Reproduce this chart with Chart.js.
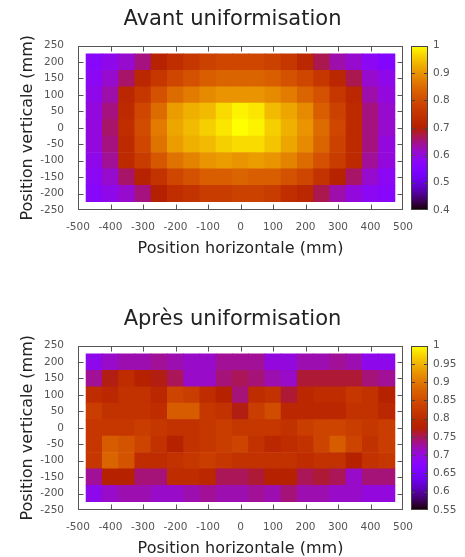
<!DOCTYPE html>
<html>
<head>
<meta charset="utf-8">
<script src="https://cdn.jsdelivr.net/npm/chart.js@4.4.0/dist/chart.umd.min.js"></script>
<style>
  html, body { margin: 0; padding: 0; background: #fff; overflow: hidden; }
  .panel { position: absolute; left: 0; width: 465px; height: 300px; }
</style>
</head>
<body>
<div class="panel" style="top:0"><canvas id="avant" width="465" height="300"></canvas></div>
<div class="panel" style="top:300px"><canvas id="apres" width="465" height="300"></canvas></div>
<script>
// cell centres (mm)
const xPositions = [-450, -400, -350, -300, -250, -200, -150, -100, -50, 0, 50, 100, 150, 200, 250, 300, 350, 400, 450];
const yPositions = [200, 150, 100, 50, 0, -50, -100, -150, -200];

// rows from top (y=200) to bottom (y=-200)
const avantValues = [
  [0.57, 0.59, 0.61, 0.65, 0.71, 0.74, 0.76, 0.78, 0.79, 0.79, 0.79, 0.78, 0.76, 0.72, 0.67, 0.63, 0.61, 0.58, 0.56],
  [0.58, 0.61, 0.66, 0.72, 0.76, 0.79, 0.81, 0.83, 0.84, 0.84, 0.84, 0.83, 0.81, 0.79, 0.76, 0.72, 0.67, 0.61, 0.59],
  [0.59, 0.63, 0.72, 0.76, 0.81, 0.85, 0.87, 0.89, 0.90, 0.90, 0.90, 0.89, 0.87, 0.84, 0.81, 0.76, 0.72, 0.63, 0.60],
  [0.60, 0.65, 0.73, 0.79, 0.85, 0.91, 0.93, 0.94, 0.97, 0.99, 0.98, 0.94, 0.92, 0.89, 0.83, 0.78, 0.73, 0.65, 0.61],
  [0.60, 0.66, 0.74, 0.80, 0.87, 0.92, 0.94, 0.96, 0.98, 1.00, 0.99, 0.96, 0.93, 0.90, 0.85, 0.79, 0.73, 0.65, 0.61],
  [0.60, 0.65, 0.73, 0.79, 0.86, 0.91, 0.93, 0.94, 0.96, 0.97, 0.97, 0.95, 0.92, 0.89, 0.84, 0.78, 0.73, 0.65, 0.60],
  [0.59, 0.64, 0.73, 0.77, 0.82, 0.86, 0.88, 0.90, 0.91, 0.90, 0.91, 0.90, 0.88, 0.85, 0.81, 0.77, 0.73, 0.64, 0.60],
  [0.58, 0.61, 0.66, 0.71, 0.75, 0.79, 0.81, 0.83, 0.83, 0.84, 0.83, 0.83, 0.81, 0.79, 0.75, 0.71, 0.66, 0.61, 0.58],
  [0.57, 0.59, 0.61, 0.65, 0.70, 0.74, 0.75, 0.77, 0.77, 0.78, 0.78, 0.77, 0.74, 0.72, 0.67, 0.63, 0.60, 0.58, 0.57]
];

const apresValues = [
  [0.69, 0.71, 0.72, 0.72, 0.73, 0.72, 0.71, 0.71, 0.73, 0.73, 0.73, 0.70, 0.70, 0.72, 0.72, 0.73, 0.72, 0.69, 0.69],
  [0.73, 0.77, 0.80, 0.78, 0.77, 0.75, 0.71, 0.71, 0.74, 0.75, 0.74, 0.72, 0.71, 0.76, 0.76, 0.76, 0.76, 0.74, 0.73],
  [0.80, 0.79, 0.81, 0.81, 0.79, 0.84, 0.83, 0.80, 0.78, 0.74, 0.80, 0.81, 0.76, 0.79, 0.80, 0.80, 0.82, 0.81, 0.78],
  [0.83, 0.81, 0.81, 0.81, 0.80, 0.87, 0.87, 0.82, 0.81, 0.77, 0.83, 0.85, 0.79, 0.79, 0.79, 0.79, 0.81, 0.81, 0.79],
  [0.82, 0.82, 0.82, 0.83, 0.82, 0.81, 0.81, 0.82, 0.83, 0.82, 0.82, 0.82, 0.81, 0.83, 0.84, 0.84, 0.83, 0.82, 0.83],
  [0.82, 0.87, 0.86, 0.84, 0.81, 0.78, 0.81, 0.82, 0.83, 0.84, 0.81, 0.79, 0.80, 0.81, 0.84, 0.87, 0.84, 0.81, 0.83],
  [0.82, 0.88, 0.86, 0.80, 0.80, 0.81, 0.82, 0.83, 0.82, 0.81, 0.81, 0.81, 0.81, 0.80, 0.81, 0.81, 0.78, 0.81, 0.82],
  [0.73, 0.78, 0.78, 0.74, 0.74, 0.80, 0.80, 0.79, 0.75, 0.75, 0.76, 0.78, 0.78, 0.75, 0.76, 0.75, 0.71, 0.74, 0.74],
  [0.69, 0.71, 0.72, 0.72, 0.71, 0.71, 0.72, 0.73, 0.72, 0.72, 0.73, 0.72, 0.74, 0.72, 0.72, 0.71, 0.71, 0.70, 0.70]
];

const avantRange = [0.4, 1];
const apresRange = [0.55, 1];

const FONT = "'DejaVu Sans', 'Liberation Sans', sans-serif";

// gnuplot default palette (rgbformulae 7,5,15)
function paletteColor(t) {
  t = Math.min(1, Math.max(0, t));
  const r = Math.sqrt(t);
  const g = t * t * t;
  const b = Math.max(0, Math.sin(2 * Math.PI * t));
  return 'rgb(' + Math.round(r * 255) + ',' + Math.round(g * 255) + ',' + Math.round(b * 255) + ')';
}

function toCells(values) {
  const pts = [];
  yPositions.forEach((y, i) => {
    xPositions.forEach((x, j) => {
      pts.push({ x: x, y: y, v: values[i][j] });
    });
  });
  return pts;
}

function cellRadius(ctx) {
  const s = ctx.chart.scales;
  const w = Math.abs(s.x.getPixelForValue(25) - s.x.getPixelForValue(-25));
  const h = Math.abs(s.y.getPixelForValue(25) - s.y.getPixelForValue(-25));
  return (Math.max(w, h) + 0.6) / (2 * Math.SQRT1_2);
}

const fmt = v => String(Math.round(v * 100) / 100);

// frame, inward ticks and colour box (gnuplot look)
const framePlugin = {
  id: 'frame',
  afterDraw(chart) {
    const ctx = chart.ctx;
    const a = chart.chartArea;
    const sx = chart.scales.x, sy = chart.scales.y, cb = chart.scales.cb;
    ctx.save();
    ctx.strokeStyle = '#555';
    ctx.lineWidth = 1;
    const L = Math.round(a.left) + 0.5, R = Math.round(a.right) - 0.5;
    const T = Math.round(a.top) + 0.5, B = Math.round(a.bottom) - 0.5;
    ctx.strokeRect(L, T, R - L, B - T);
    ctx.beginPath();
    sx.ticks.forEach(t => {
      if (t.value <= sx.min || t.value >= sx.max) return;
      const px = Math.round(sx.getPixelForValue(t.value)) + 0.5;
      ctx.moveTo(px, B); ctx.lineTo(px, B - 5);
      ctx.moveTo(px, T); ctx.lineTo(px, T + 5);
    });
    sy.ticks.forEach(t => {
      if (t.value <= sy.min || t.value >= sy.max) return;
      const py = Math.round(sy.getPixelForValue(t.value)) + 0.5;
      ctx.moveTo(L, py); ctx.lineTo(L + 5, py);
      ctx.moveTo(R, py); ctx.lineTo(R - 5, py);
    });
    ctx.stroke();

    // colour box
    const x0 = Math.round(a.right) + 8, bw = 17;
    for (let py = Math.round(a.top); py < Math.round(a.bottom); py++) {
      const v = cb.getValueForPixel(py + 0.5);
      ctx.fillStyle = paletteColor((v - cb.min) / (cb.max - cb.min));
      ctx.fillRect(x0, py, bw, 1);
    }
    ctx.strokeStyle = '#444';
    ctx.strokeRect(x0 + 0.5, T, bw - 1, B - T);
    ctx.beginPath();
    cb.ticks.forEach(t => {
      if (t.value <= cb.min || t.value >= cb.max) return;
      const py = Math.round(cb.getPixelForValue(t.value)) + 0.5;
      ctx.moveTo(x0, py); ctx.lineTo(x0 + 4, py);
      ctx.moveTo(x0 + bw, py); ctx.lineTo(x0 + bw - 4, py);
    });
    ctx.stroke();
    ctx.restore();
  }
};

function makeChart(id, title, values, range, cbStep) {
  const vmin = range[0], vmax = range[1];
  const tickFont = { family: FONT, size: 10.5 };
  const titleFont = { family: FONT, size: 16 };
  const noGrid = { display: false, drawTicks: false };
  return new Chart(document.getElementById(id), {
    type: 'scatter',
    data: {
      datasets: [{
        data: toCells(values),
        pointStyle: 'rect',
        borderWidth: 0,
        pointBorderWidth: 0,
        backgroundColor: c => c.raw ? paletteColor((c.raw.v - vmin) / (vmax - vmin)) : '#000',
        pointRadius: cellRadius,
        pointHoverRadius: cellRadius
      }]
    },
    options: {
      responsive: false,
      animation: false,
      events: [],
      layout: { padding: { left: 0, right: 0, top: 0, bottom: 30 } },
      plugins: {
        legend: { display: false },
        tooltip: { enabled: false },
        title: {
          display: true,
          text: title,
          color: '#222',
          font: { family: FONT, size: 21, weight: 'normal' },
          padding: { top: 7.4, bottom: 13 }
        }
      },
      scales: {
        x: {
          type: 'linear', min: -500, max: 500,
          ticks: { stepSize: 100, padding: 11, color: '#555', font: tickFont, callback: fmt, maxRotation: 0 },
          grid: noGrid, border: { display: false },
          title: { display: true, text: 'Position horizontale (mm)', color: '#222', font: titleFont, padding: { top: 0, bottom: 11.4 } },
          afterFit: s => { s.height = 60; }
        },
        y: {
          type: 'linear', min: -250, max: 250,
          ticks: { stepSize: 50, padding: 14, color: '#555', font: tickFont, callback: fmt },
          grid: noGrid, border: { display: false },
          title: { display: true, text: 'Position verticale (mm)', color: '#222', font: titleFont, padding: { top: 18, bottom: 0 } },
          afterFit: s => { s.width = 78; }
        },
        cb: {
          type: 'linear', position: 'right', min: vmin, max: vmax,
          ticks: { stepSize: cbStep, padding: 30, color: '#555', font: tickFont, callback: fmt },
          grid: noGrid, border: { display: false },
          afterFit: s => { s.width = 62; }
        }
      }
    },
    plugins: [framePlugin]
  });
}

makeChart('avant', 'Avant uniformisation', avantValues, avantRange, 0.1);
makeChart('apres', 'Après uniformisation', apresValues, apresRange, 0.05);
</script>
</body>
</html>
